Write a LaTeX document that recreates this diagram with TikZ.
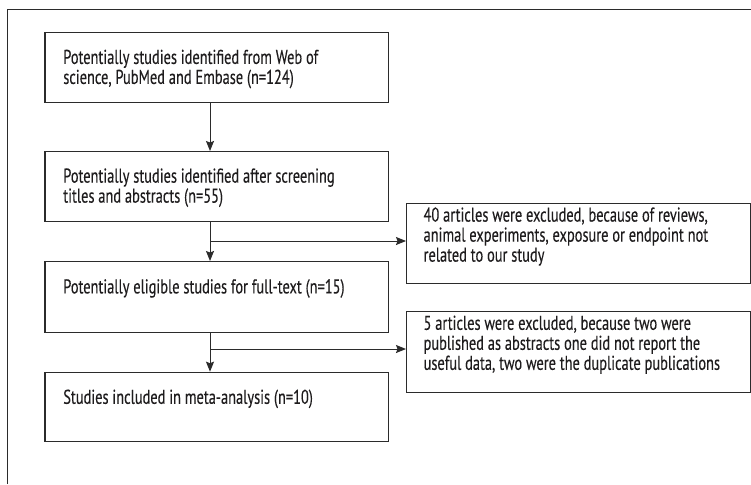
\documentclass[tikz,border=0pt]{standalone}
\usepackage{fontspec}
\setmainfont{PT Sans}[FakeStretch=0.72,FakeBold=0.2]
\usetikzlibrary{arrows.meta}
\definecolor{ink}{HTML}{2B2B2B}
\definecolor{txt}{HTML}{1E1C1D}
\newcommand{\bxt}[4]{\begin{minipage}[c][#1][t]{#2}\raggedright\rule{0pt}{#3}#4\end{minipage}}
\tikzset{
  flowbox/.style={draw=ink, line width=1.2pt, anchor=north west, inner ysep=0pt,
    text=txt, font=\fontsize{20}{20}\selectfont},
  mainbox/.style={flowbox, inner xsep=18.4pt},
  exbox/.style={flowbox, inner xsep=17pt},
  conn/.style={draw=ink, line width=1pt},
  arr/.style={conn, -{Stealth[length=10pt,width=8pt,inset=1.5pt]}},
}
\begin{document}
\begin{tikzpicture}[x=1pt,y=-1pt]
\path[fill=white] (0,0) rectangle (751,484);
\useasboundingbox (0,0) rectangle (751,484);
% outer frame (partly cropped)
\draw[ink, line width=1.2pt] (7.7,484) -- (7.7,9.3) -- (751,9.3);
% main boxes
\node[mainbox] (b1) at (44.3,32.3) {\bxt{70pt}{306.9pt}{31pt}{Potentially studies identified from Web of\\ science, PubMed and Embase (n=124)}};
\node[mainbox] (b2) at (44.3,151) {\bxt{69.7pt}{306.9pt}{31pt}{Potentially studies identified after screening\\ titles and abstracts (n=55)}};
\node[mainbox] (b4) at (44.3,261) {\bxt{70.7pt}{306.9pt}{31.8pt}{Potentially eligible studies for full-text (n=15)}};
\node[mainbox] (b6) at (44.3,371.7) {\bxt{69.3pt}{306.9pt}{31.5pt}{Studies included in meta-analysis (n=10)}};
% exclusion boxes
\node[exbox] (b3) at (406,202.5) {\bxt{80pt}{309.5pt}{18.5pt}{40 articles were excluded, because of reviews,\\ animal experiments, exposure or endpoint not\\ related to our study}};
\node[exbox] (b5) at (406,310.7) {\bxt{81pt}{309.5pt}{18.5pt}{5 articles were excluded, because two were\\ published as abstracts one did not report the\\ useful data, two were the duplicate publications}};
% junctions
\coordinate (j1) at (210,241);
\coordinate (j2) at (210,349);
% connectors
\draw[arr] (b1.south -| j1) -- (b2.north -| j1);
\draw[arr] (b2.south -| j1) -- (b4.north -| j1);
\draw[arr] (j1) -- (j1 -| b3.west);
\draw[arr] (b4.south -| j2) -- (b6.north -| j2);
\draw[arr] (j2) -- (j2 -| b5.west);
\end{tikzpicture}
\end{document}
